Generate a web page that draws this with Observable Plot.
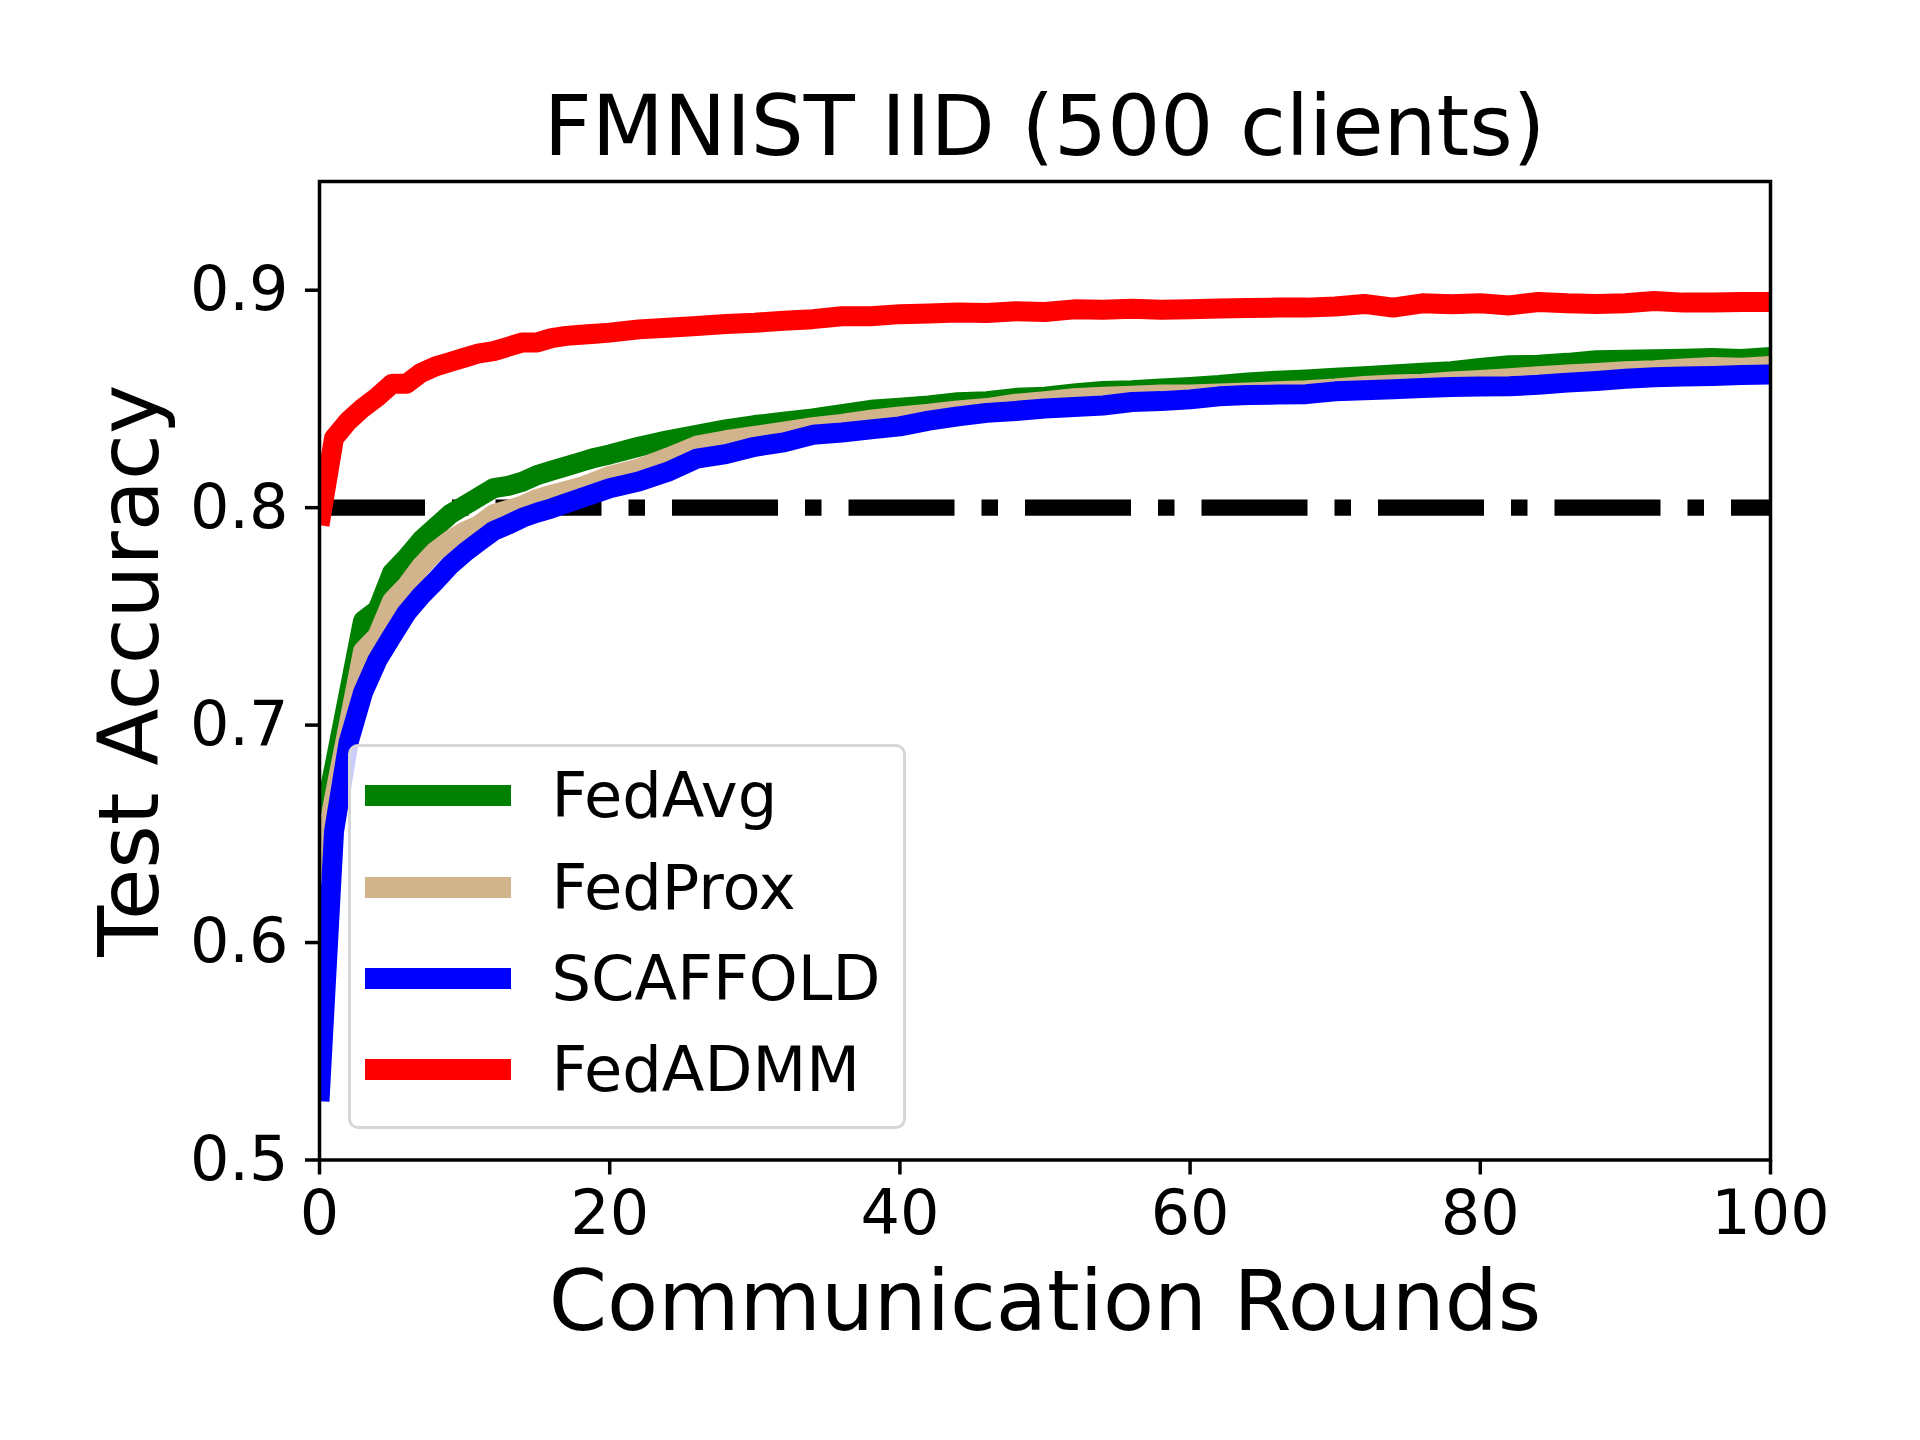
<!DOCTYPE html>
<html>
<head>
<meta charset="utf-8">
<script src="https://cdn.jsdelivr.net/npm/d3@7"></script>
<script src="https://cdn.jsdelivr.net/npm/@observablehq/plot@0.6"></script>
<style>
html,body{margin:0;padding:0;background:#fff;}
#wrap{position:relative;width:1920px;height:1440px;font-family:"DejaVu Sans",sans-serif;color:#000;overflow:hidden;background:#fff;}
#title{box-sizing:border-box;height:175px;padding-top:84.5px;margin-left:319px;width:1451px;text-align:center;font-size:83.5px;line-height:83.5px;white-space:nowrap;}
#chart svg{display:block;overflow:visible;}
#legendBox{position:absolute;left:348px;top:744px;width:558px;height:385px;box-sizing:border-box;border:3.3px solid #d6d6d6;border-radius:10px;background:rgba(255,255,255,0.8);}
.sw{position:absolute;left:365px;width:146px;height:21px;}
.lt{position:absolute;left:551.5px;font-size:62.3px;line-height:62.3px;white-space:nowrap;}
</style>
</head>
<body>
<div id="wrap">
  <div id="title"></div>
  <div id="chart"></div>
</div>
<script>
const titleText = "FMNIST IID (500 clients)";
const xLabel = "Communication Rounds";
const yLabel = "Test Accuracy";
const xTicks = [0, 20, 40, 60, 80, 100];
const yTicks = [0.5, 0.6, 0.7, 0.8, 0.9];
const targetAccuracy = [0.8];
const seriesNames = ["FedAvg", "FedProx", "SCAFFOLD", "FedADMM"];
const seriesColors = ["#008000", "#d2b48c", "#0000ff", "#ff0000"];

const rounds = [0,1,2,3,4,5,6,7,8,9,10,11,12,13,14,15,16,17,18,19,20,
  22,24,26,28,30,32,34,36,38,40,
  42,44,46,48,50,52,54,56,58,60,
  62,64,66,68,70,72,74,76,78,80,
  82,84,86,88,90,92,94,96,98,100];

const fedavg = [0.648,0.680,0.714,0.748,0.753,0.770,0.777,0.785,0.791,0.797,0.801,0.805,0.809,0.810,0.812,0.815,0.817,0.819,0.821,0.823,0.8245,
  0.828,0.831,0.8335,0.836,0.838,0.8395,0.841,0.843,0.845,0.846,
  0.847,0.8485,0.849,0.8505,0.851,0.8525,0.8537,0.854,0.8548,0.8555,
  0.8564,0.8576,0.8584,0.859,0.8597,0.8604,0.8612,0.862,0.8628,0.8642,
  0.8655,0.8657,0.8666,0.8678,0.868,0.8683,0.8685,0.8688,0.8684,0.8693];

const fedprox = [0.630,0.666,0.700,0.734,0.741,0.757,0.764,0.773,0.780,0.785,0.789,0.792,0.797,0.799,0.801,0.804,0.806,0.8077,0.8095,0.812,0.8146,
  0.818,0.823,0.8285,0.831,0.833,0.835,0.837,0.8385,0.8405,0.842,
  0.8432,0.8447,0.8458,0.8478,0.849,0.8503,0.851,0.8515,0.852,0.852,
  0.8525,0.853,0.8535,0.854,0.8548,0.856,0.8567,0.857,0.858,0.8587,
  0.8595,0.8605,0.8613,0.8619,0.8627,0.8632,0.864,0.8647,0.8643,0.8652];

const scaffold = [0.527,0.651,0.692,0.715,0.730,0.741,0.7516,0.7595,0.7663,0.7735,0.7793,0.7844,0.7893,0.7922,0.7954,0.7977,0.7997,0.802,0.8043,0.8066,0.8089,
  0.812,0.8165,0.8225,0.8246,0.828,0.830,0.8335,0.8346,0.836,0.8374,
  0.840,0.842,0.8436,0.8445,0.8456,0.8463,0.847,0.8486,0.849,0.8498,
  0.8512,0.8518,0.852,0.8522,0.8535,0.854,0.8545,0.855,0.8555,0.8557,
  0.8558,0.8565,0.8575,0.8583,0.8593,0.860,0.8603,0.8606,0.861,0.8612];

const fedadmm = [0.792,0.832,0.840,0.846,0.851,0.857,0.857,0.862,0.865,0.867,0.869,0.871,0.872,0.874,0.876,0.876,0.878,0.879,0.8795,0.880,0.8805,
  0.882,0.8827,0.8835,0.8845,0.885,0.886,0.8867,0.888,0.888,0.889,
  0.8893,0.8898,0.8895,0.8903,0.890,0.8912,0.891,0.8915,0.891,0.8913,
  0.8916,0.8918,0.892,0.892,0.8925,0.8937,0.892,0.894,0.8935,0.894,
  0.893,0.8946,0.894,0.8937,0.894,0.895,0.8943,0.8943,0.8946,0.8946];

const seriesValues = [fedavg, fedprox, scaffold, fedadmm];
const tables = seriesValues.map((vals, k) =>
  rounds.map((r, i) => ({round: r, acc: vals[i], series: seriesNames[k]})));

document.getElementById("title").textContent = titleText;

const plot = Plot.plot({
  width: 1920,
  height: 1265,
  marginTop: 6,
  marginBottom: 280.5,
  marginLeft: 319,
  marginRight: 150,
  style: {fontFamily: "'DejaVu Sans', sans-serif", background: "white", color: "black", overflow: "visible"},
  x: {domain: [0, 100], label: null},
  y: {domain: [0.5, 0.95], label: null},
  marks: [
    Plot.ruleY(targetAccuracy, {stroke: "black", strokeWidth: 16.4, strokeDasharray: "106 27 16.5 27"}),
    ...tables.map((t, k) => Plot.line(t, {
      x: "round", y: "acc", stroke: seriesColors[k], strokeWidth: 20,
      strokeLinejoin: "round", strokeLinecap: "butt", clip: true
    })),
    Plot.frame({stroke: "black", strokeWidth: 3.5}),
    Plot.axisX({ticks: xTicks, tickSize: 15, tickPadding: 15, fontSize: 62, strokeWidth: 3.5,
      tickFormat: d => String(d), label: null}),
    Plot.axisY({ticks: yTicks, tickSize: 14, tickPadding: 17, fontSize: 62, strokeWidth: 3.5,
      tickFormat: d => d.toFixed(1), label: null}),
    Plot.text([xLabel], {frameAnchor: "bottom", dy: 143.5, fontSize: 83.5, lineAnchor: "middle", textAnchor: "middle"}),
    Plot.text([yLabel], {frameAnchor: "left", dx: -188.5, rotate: -90, fontSize: 83.5, lineAnchor: "middle", textAnchor: "middle"})
  ]
});
document.getElementById("chart").appendChild(plot);

// Legend overlay
const wrap = document.getElementById("wrap");
const box = document.createElement("div");
box.id = "legendBox";
wrap.appendChild(box);
const rowCenters = [795.3, 887.3, 978.3, 1069.3];
seriesNames.forEach((name, k) => {
  const sw = document.createElement("div");
  sw.className = "sw";
  sw.style.top = (rowCenters[k] - 10.5) + "px";
  sw.style.background = seriesColors[k];
  wrap.appendChild(sw);
  const lt = document.createElement("div");
  lt.className = "lt";
  lt.style.top = (rowCenters[k] + 22 - 52.7) + "px";
  lt.textContent = name;
  wrap.appendChild(lt);
});
</script>
</body>
</html>
